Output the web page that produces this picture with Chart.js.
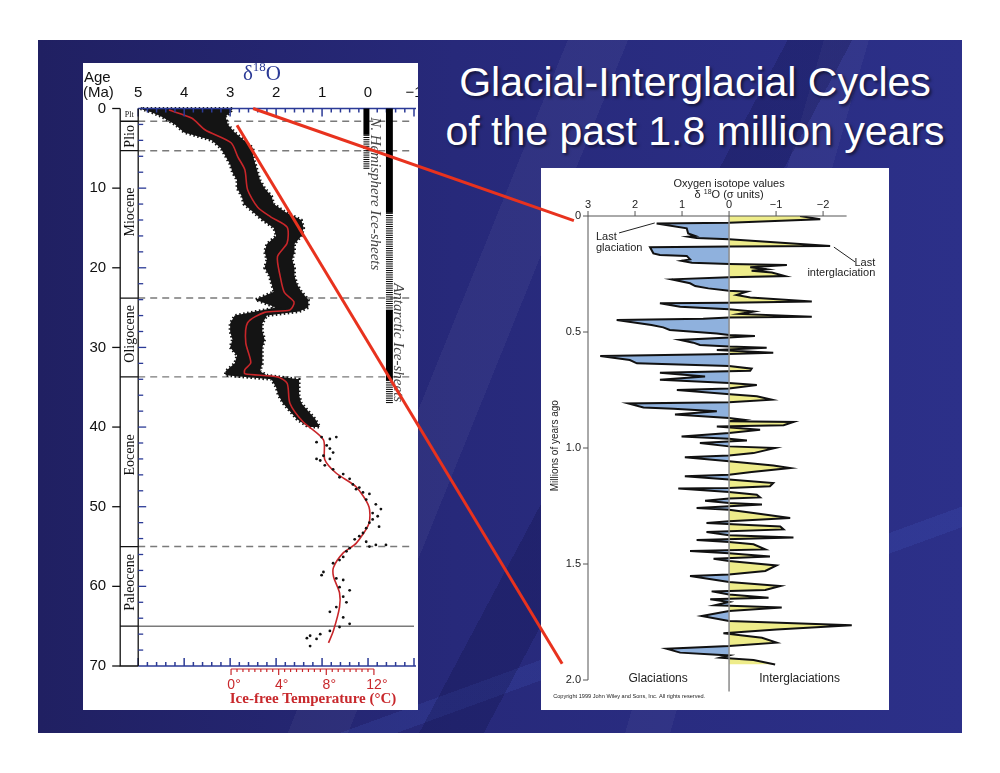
<!DOCTYPE html>
<html>
<head>
<meta charset="utf-8">
<script src="https://cdn.jsdelivr.net/npm/chart.js@4.4.1/dist/chart.umd.min.js"></script>
<style>
html, body { margin: 0; padding: 0; background: #fff; width: 1000px; height: 773px; overflow: hidden; }
#slide {
  position: absolute; left: 38px; top: 40px; width: 924px; height: 693px;
  background:
    linear-gradient(112deg, transparent 44%, rgba(255,255,255,0.045) 44%, rgba(255,255,255,0.045) 49%, transparent 49%),
    linear-gradient(118deg, transparent 58%, rgba(0,0,40,0.18) 58%, rgba(0,0,40,0.18) 63%, transparent 63%),
    linear-gradient(106deg, transparent 70%, rgba(255,255,255,0.04) 70%, rgba(255,255,255,0.04) 74%, transparent 74%),
    linear-gradient(160deg, transparent 78%, rgba(80,110,220,0.14) 78%, rgba(80,110,220,0.14) 80%, transparent 80%),
    linear-gradient(90deg, #202062 0%, #27297a 45%, #2c3089 100%);
}
#title {
  position: absolute; left: 420px; top: 58px; width: 550px; text-align: center;
  color: #fff; font: 41px/49px "Liberation Sans", Arial, sans-serif;
  text-shadow: 2px 2px 3px rgba(0,0,0,0.55);
}
.panel { position: absolute; background: #fff; }
#leftBox { left: 83px; top: 63px; width: 335px; height: 647px; }
#rightBox { left: 541px; top: 168px; width: 348px; height: 542px; }
canvas { position: absolute; left: 0; top: 0; }
#overlay { pointer-events: none; }
</style>
</head>
<body>
<div id="slide"></div>
<div id="title">Glacial-Interglacial Cycles<br>of the past 1.8 million years</div>
<div class="panel" id="leftBox"><canvas id="zachos" width="335" height="647"></canvas></div>
<div class="panel" id="rightBox"><canvas id="cycles" width="348" height="542"></canvas></div>
<canvas id="overlay" width="1000" height="773"></canvas>
<script>
// ---- left panel: deep-sea d18O, 0-70 Ma ----
let smoothAge = [0.2, 1.2, 2.7, 4.3, 6.1, 7.7, 10.2, 12.4, 13.6, 14.9, 16.9, 18.6, 21.1, 23.1, 24.3, 25.3, 25.6, 26.9, 29.4, 31.9,
    32.8, 33.3, 33.7, 34.5, 37.0, 39.3, 41.6, 44.1, 45.8, 47.5, 50.0, 52.1, 54.6, 55.8, 57.6, 58.8, 60.8, 62.6, 65.5, 67.1];
let smoothD18O = [4.33, 3.84, 3.54, 2.98, 2.83, 2.68, 2.62, 2.40, 2.12, 1.76, 1.76, 1.97, 1.91, 1.82, 1.61, 1.70, 2.25, 2.62, 2.66, 2.55,
    2.68, 2.68, 1.97, 1.76, 1.70, 1.42, 0.97, 0.94, 0.69, 0.26, -0.02, -0.02, 0.26, 0.54, 0.75, 0.75, 0.62, 0.62, 0.75, 0.86];

// spread of the dense measurements (left / right edge of the black cloud)
let cloudAge = [0, 0.5, 1, 2, 3, 4, 5, 6, 7, 8, 9, 10, 11, 12, 13, 14, 15, 16, 17, 18, 19, 20, 21, 22, 23, 24, 25, 25.5,
    26, 27, 28, 29, 30, 31, 32, 33, 33.5, 34, 35, 36, 37, 38, 39, 40];
let cloudHigh = [4.95, 4.7, 4.5, 4.2, 4.0, 3.4, 3.2, 3.1, 3.0, 2.95, 2.85, 2.85, 2.75, 2.7, 2.5, 2.3, 2.05, 2.0, 2.2, 2.25, 2.2, 2.25,
    2.15, 2.1, 2.05, 2.45, 2.0, 2.45, 2.9, 3.0, 3.0, 2.95, 3.0, 2.85, 2.9, 3.1, 3.1, 2.1, 2.0, 1.95, 1.85, 1.7, 1.55, 1.3];
let cloudLow = [2.95, 3.0, 3.1, 3.05, 2.9, 2.7, 2.5, 2.5, 2.45, 2.4, 2.35, 2.25, 2.1, 2.05, 1.8, 1.45, 1.4, 1.45, 1.6, 1.6, 1.65, 1.6,
    1.6, 1.55, 1.45, 1.3, 1.3, 1.5, 2.2, 2.3, 2.3, 2.25, 2.3, 2.3, 2.3, 2.35, 2.2, 1.5, 1.5, 1.5, 1.45, 1.3, 1.15, 1.05];

// single measurements in the sparse older part
let dotAge = [41.25, 41.5, 41.25, 41.9, 42.3, 42.7, 43.2, 43.6, 44.0, 44.2, 44.0, 44.8, 45.3, 45.9, 46.3, 46.5, 47.2, 47.6, 47.8, 48.2,
    48.4, 49.1, 49.7, 50.3, 50.8, 51.2, 51.6, 52.0, 52.5, 52.7, 53.3, 53.7, 54.1, 54.4, 54.8, 54.8, 55.0, 55.2, 55.6, 56.3,
    56.7, 57.1, 58.2, 58.6, 59.0, 59.2, 60.1, 60.5, 61.3, 62.0, 62.6, 63.2, 63.9, 64.7, 65.1, 65.6, 66.0, 66.2, 66.5, 66.6, 67.5];
let dotD18O = [1.01, 0.83, 0.69, 1.12, 0.90, 0.83, 0.76, 0.97, 1.12, 1.04, 0.83, 0.94, 0.76, 0.54, 0.62, 0.40, 0.33, 0.19, 0.26, 0.11,
    -0.03, 0.04, -0.17, -0.28, -0.10, -0.21, -0.10, -0.03, -0.24, 0.04, 0.11, 0.19, 0.29, 0.04, -0.17, -0.39, -0.03, 0.40, 0.47, 0.54,
    0.62, 0.76, 0.97, 1.01, 0.69, 0.54, 0.62, 0.40, 0.54, 0.47, 0.69, 0.83, 0.54, 0.40, 0.62, 0.83, 1.04, 1.26, 1.33, 1.12, 1.26];

let epochNames = ['Plt', 'Plio', 'Miocene', 'Oligocene', 'Eocene', 'Paleocene'];
let epochLabelAge = [0.8, 3.5, 13.0, 28.3, 43.5, 59.5];
let epochBounds = [1.6, 5.3, 23.8, 33.7, 55, 65];
let ageTicks = [0, 10, 20, 30, 40, 50, 60, 70];
let d18OTicks = [5, 4, 3, 2, 1, 0, -1];
let tempTicks = [0, 4, 8, 12];
let tempToD18O = { atZero: 2.98, perDegree: -0.259 };

// ice-sheet bars: [from Ma, to Ma]
let nhSolid = [[0, 3.3]];
let nhPartial = [[3.3, 7.7]];
let antSolid = [[0, 13.1], [25.3, 34.1]];
let antPartial = [[13.1, 25.3], [34.1, 37]];

// ---- right panel: normalised d18O, last 2 Myr ----
let cycleAge = [0, 0.014, 0.029, 0.032, 0.053, 0.075, 0.086, 0.089, 0.095, 0.1, 0.129, 0.132, 0.135, 0.161, 0.168, 0.172, 0.187, 0.193,
    0.201, 0.207, 0.211, 0.221, 0.23, 0.236, 0.244, 0.259, 0.264, 0.273, 0.29, 0.302, 0.312, 0.322, 0.326, 0.34, 0.351, 0.369,
    0.374, 0.376, 0.391, 0.402, 0.412, 0.422, 0.434, 0.438, 0.443, 0.448, 0.47, 0.48, 0.491, 0.506, 0.513, 0.517, 0.524, 0.534,
    0.546, 0.556, 0.563, 0.568, 0.578, 0.589, 0.595, 0.603, 0.621, 0.635, 0.647, 0.658, 0.667, 0.676, 0.692, 0.706, 0.72, 0.728,
    0.744, 0.75, 0.767, 0.777, 0.792, 0.803, 0.808, 0.825, 0.831, 0.842, 0.856, 0.871, 0.878, 0.885, 0.888, 0.902, 0.907, 0.921,
    0.935, 0.95, 0.96, 0.968, 0.978, 0.993, 1.0, 1.022, 1.032, 1.04, 1.057, 1.075, 1.086, 1.103, 1.115, 1.122, 1.136, 1.151,
    1.165, 1.172, 1.175, 1.19, 1.201, 1.213, 1.218, 1.227, 1.237, 1.244, 1.259, 1.266, 1.28, 1.302, 1.316, 1.323, 1.338, 1.351,
    1.362, 1.376, 1.386, 1.397, 1.405, 1.415, 1.437, 1.444, 1.454, 1.468, 1.477, 1.487, 1.506, 1.53, 1.545, 1.552, 1.578, 1.595,
    1.612, 1.618, 1.631, 1.645, 1.652, 1.664, 1.678, 1.688, 1.703, 1.724, 1.746, 1.764, 1.782, 1.799, 1.818, 1.839, 1.853, 1.865,
    1.882, 1.894, 1.904, 1.914, 1.933];
let cycleSigma = [-1.51, -1.94, 0, 1.54, 0.90, 0.87, 0.72, 0.87, 0.69, 0, -2.15, 0, 1.68, 1.61, 1.47, 0.90, 0.83, 1.01,
    0.79, 0, -1.23, -0.45, -0.80, -0.48, -0.91, -1.19, 0, 1.22, 0.83, 0.72, 0.44, 0, -0.38, -0.16, -0.45, -1.76,
    0, 1.47, 1.04, 0, -0.52, -0.23, -1.76, 0, 0.55, 2.39, 1.65, 1.40, 1.26, 0.26, 0, -0.55, 0, 1.04,
    0.76, 0.62, 0, -0.80, 0.26, -0.94, 0, 2.74, 2.11, 1.96, 0, -0.48, -0.45, 1.47, 0.51, 1.47, 0, -0.59,
    0, 1.11, 0.05, -0.59, -0.91, 0, 2.14, 1.82, 1.18, 0.26, 1.15, 0, -0.30, 0, -1.37, -1.16, 0.26, -0.66,
    0, 1.01, 0, -0.38, 0.62, 0, -0.98, -0.52, 0, 0.94, 0, -0.94, -1.30, -0.48, 0, 0.94, 0, -0.94,
    -0.87, 0, 1.08, 0, -0.59, -0.66, 0, 0.51, 0, -0.70, 0.69, 0, -0.52, -1.30, 0, 0.48, -1.09, -1.16,
    0.48, 0, -1.37, 0.69, 0, -0.52, -0.77, 0.83, 0, -0.87, 0.33, 0, -1.01, -0.77, 0, 0.83, 0, -1.09,
    -0.77, 0.37, 0, -0.84, 0.40, 0, 0.30, -1.12, 0, 0.58, 0, -2.61, -1.01, 0.12, -0.70, -1.01, 0, 1.33,
    1.04, 0, 0.19, -0.52, -0.98];
let sigmaTicks = [3, 2, 1, 0, -1, -2];
let sigmaTickLabels = ['3', '2', '1', '0', '\u22121', '\u22122'];
let myrTicks = [0, 0.5, 1.0, 1.5, 2.0];
let myrTickLabels = ['0', '0.5', '1.0', '1.5', '2.0'];

// red connectors: left panel [d18O, Ma] -> right panel [sigma, Myr]
let linkFrom = [[2.5, 0], [2.85, 2.1]];
let linkTo = [[3.3, 0.02], [3.55, 1.93]];

const SANS = '"Liberation Sans", Arial, sans-serif';
const SERIF = '"Liberation Serif", "Times New Roman", serif';
const AXIS_BLUE = '#2b3a96';
const TEMP_RED = '#c8282c';

function iceBars(ctx, x, y, ranges, x0, x1, solid) {
    ctx.fillStyle = '#000';
    ranges.forEach(r => {
        const top = y.getPixelForValue(r[0]), bot = y.getPixelForValue(r[1]);
        const l = x.getPixelForValue(x0), rr = x.getPixelForValue(x1);
        if (solid) {
            ctx.fillRect(l, top, rr - l, bot - top);
        } else {
            for (let yy = top; yy < bot; yy += 2.2) ctx.fillRect(l, yy, rr - l, 1);
        }
    });
}

const zachosDecor = {
    id: 'zachosDecor',
    beforeDatasetsDraw(chart) {
        const { ctx, chartArea: a, scales: { x, y } } = chart;
        ctx.save();
        // boundaries across the plot
        ctx.strokeStyle = '#7a7a7a';
        ctx.lineWidth = 1.4;
        epochBounds.forEach((b, i) => {
            const py = y.getPixelForValue(b);
            ctx.setLineDash(i === epochBounds.length - 1 ? [] : [7, 5]);
            ctx.beginPath(); ctx.moveTo(a.left, py); ctx.lineTo(a.right, py); ctx.stroke();
        });
        ctx.setLineDash([]);
        // dense cloud of measurements
        ctx.beginPath();
        cloudAge.forEach((age, i) => {
            const px = x.getPixelForValue(cloudHigh[i]), py = y.getPixelForValue(age);
            if (i) ctx.lineTo(px, py); else ctx.moveTo(px, py);
        });
        for (let i = cloudAge.length - 1; i >= 0; i--) {
            ctx.lineTo(x.getPixelForValue(cloudLow[i]), y.getPixelForValue(cloudAge[i]));
        }
        ctx.closePath();
        ctx.fillStyle = '#141414';
        ctx.fill();
        // ragged edge
        ctx.strokeStyle = '#141414';
        ctx.lineWidth = 3;
        ctx.setLineDash([1.5, 2.5]);
        ctx.stroke();
        ctx.setLineDash([]);
        ctx.restore();
    },
    afterDraw(chart) {
        const { ctx, chartArea: a, scales: { x, y } } = chart;
        ctx.save();
        // top and bottom d18O axes
        ctx.strokeStyle = AXIS_BLUE;
        ctx.lineWidth = 1.5;
        [a.top, a.bottom].forEach((py, k) => {
            ctx.beginPath(); ctx.moveTo(a.left, py); ctx.lineTo(a.right + 2, py); ctx.stroke();
            for (let i = -5; i <= 25; i++) {
                const px = x.getPixelForValue(i / 5);
                const len = i % 5 === 0 ? 8 : 4;
                ctx.beginPath();
                ctx.moveTo(px, py);
                ctx.lineTo(px, k === 0 ? py + len : py - len);
                ctx.stroke();
            }
        });
        ctx.fillStyle = '#111';
        ctx.font = '15px ' + SANS;
        ctx.textAlign = 'center';
        ctx.textBaseline = 'middle';
        d18OTicks.forEach(v => ctx.fillText(String(v).replace('-', '\u2212'), x.getPixelForValue(v), a.top - 16));

        // age column
        const colL = a.left - 18;
        ctx.strokeStyle = '#111';
        ctx.lineWidth = 1.3;
        ctx.beginPath();
        ctx.moveTo(colL, a.top); ctx.lineTo(colL, a.bottom); ctx.lineTo(a.left, a.bottom);
        ctx.moveTo(a.left, a.top); ctx.lineTo(a.left, a.bottom);
        epochBounds.forEach(b => {
            const py = y.getPixelForValue(b);
            ctx.moveTo(colL, py); ctx.lineTo(a.left, py);
        });
        ctx.stroke();
        ctx.textAlign = 'right';
        ageTicks.forEach(v => {
            const py = y.getPixelForValue(v);
            ctx.beginPath(); ctx.moveTo(colL - 8, py); ctx.lineTo(colL, py); ctx.stroke();
            ctx.fillText(String(v), colL - 14, py);
        });
        ctx.strokeStyle = AXIS_BLUE;
        for (let v = 2; v < 70; v += 2) {
            const py = y.getPixelForValue(v);
            ctx.beginPath(); ctx.moveTo(a.left, py); ctx.lineTo(a.left + (v % 10 === 0 ? 8 : 5), py); ctx.stroke();
        }
        // epoch names
        ctx.fillStyle = '#111';
        ctx.textAlign = 'center';
        epochNames.forEach((name, i) => {
            const py = y.getPixelForValue(epochLabelAge[i]);
            if (i === 0) {
                ctx.font = '8px ' + SERIF;
                ctx.fillText(name, colL + 9, py);
                return;
            }
            ctx.font = '14px ' + SERIF;
            ctx.save();
            ctx.translate(colL + 10, py);
            ctx.rotate(-Math.PI / 2);
            ctx.fillText(name, 0, 0);
            ctx.restore();
        });

        // ice sheets
        iceBars(ctx, x, y, nhSolid, 0.1, -0.03, true);
        iceBars(ctx, x, y, nhPartial, 0.1, -0.03, false);
        iceBars(ctx, x, y, antSolid, -0.39, -0.54, true);
        iceBars(ctx, x, y, antPartial, -0.39, -0.54, false);
        ctx.fillStyle = '#444';
        ctx.font = 'italic 15px ' + SERIF;
        [['N. Hemisphere Ice-sheets', -0.15, 10.7], ['Antarctic Ice-sheets', -0.66, 29.4]].forEach(t => {
            ctx.save();
            ctx.translate(x.getPixelForValue(t[1]), y.getPixelForValue(t[2]));
            ctx.rotate(Math.PI / 2);
            ctx.fillText(t[0], 0, 0);
            ctx.restore();
        });

        // temperature axis
        const tx = t => x.getPixelForValue(tempToD18O.atZero + tempToD18O.perDegree * t);
        const ty = a.bottom + 3;
        ctx.strokeStyle = TEMP_RED;
        ctx.lineWidth = 1.2;
        ctx.beginPath(); ctx.moveTo(tx(0), ty); ctx.lineTo(tx(12), ty); ctx.stroke();
        for (let t = 0; t <= 12; t += 0.5) {
            ctx.beginPath(); ctx.moveTo(tx(t), ty); ctx.lineTo(tx(t), ty + (t % 4 === 0 ? 6 : 3)); ctx.stroke();
        }
        ctx.fillStyle = TEMP_RED;
        ctx.font = '14px ' + SANS;
        tempTicks.forEach(t => ctx.fillText(t + '\u00b0', tx(t) + 3, ty + 16));
        ctx.font = 'bold 15px ' + SERIF;
        ctx.fillText('Ice-free Temperature (\u00b0C)', 230, ty + 30);

        // labels at top
        ctx.fillStyle = '#111';
        ctx.font = '15px ' + SANS;
        ctx.textAlign = 'left';
        ctx.fillText('Age', 1, 15);
        ctx.fillText('(Ma)', 0, 30);
        ctx.fillStyle = AXIS_BLUE;
        ctx.font = '21px ' + SERIF;
        const w1 = ctx.measureText('\u03b4').width;
        ctx.font = '13px ' + SERIF;
        const w2 = ctx.measureText('18').width;
        ctx.font = '21px ' + SERIF;
        const w3 = ctx.measureText('O').width;
        let sx = 179 - (w1 + w2 + w3) / 2;
        ctx.fillText('\u03b4', sx, 11);
        ctx.font = '13px ' + SERIF;
        ctx.fillText('18', sx + w1, 5);
        ctx.font = '21px ' + SERIF;
        ctx.fillText('O', sx + w1 + w2, 11);
        ctx.restore();
    }
};

let zachosCtx = document.getElementById('zachos').getContext('2d');
let zachosChart = new Chart(zachosCtx, {
    type: 'scatter',
    data: {
        datasets: [{
            label: 'measurements',
            data: dotAge.map((age, i) => ({ x: dotD18O[i], y: age })),
            pointRadius: 1.4,
            pointBackgroundColor: '#111',
            pointBorderWidth: 0
        }, {
            label: 'smoothed',
            data: smoothAge.map((age, i) => ({ x: smoothD18O[i], y: age })),
            showLine: true,
            borderColor: '#c8262a',
            borderWidth: 1.6,
            tension: 0.25,
            pointRadius: 0
        }]
    },
    options: {
        responsive: false,
        animation: false,
        layout: { padding: { left: 55.2, right: 0, top: 45.5, bottom: 44 } },
        plugins: { legend: { display: false }, tooltip: { enabled: false } },
        scales: {
            x: { type: 'linear', min: -1, max: 5, reverse: true, display: false },
            y: { type: 'linear', min: 0, max: 70, reverse: true, display: false }
        }
    },
    plugins: [zachosDecor]
});

// ---- right chart ----
const cycleDecor = {
    id: 'cycleDecor',
    afterDatasetsDraw(chart) {
        const { ctx, scales: { x, y } } = chart;
        ctx.save();
        ctx.strokeStyle = '#8a8a8a';
        ctx.lineWidth = 1.5;
        const zx = x.getPixelForValue(0);
        ctx.beginPath(); ctx.moveTo(zx, y.getPixelForValue(0)); ctx.lineTo(zx, y.getPixelForValue(2.05)); ctx.stroke();
        ctx.restore();
    },
    afterDraw(chart) {
        const { ctx, scales: { x, y } } = chart;
        ctx.save();
        const top = y.getPixelForValue(0), left = x.getPixelForValue(3);
        ctx.strokeStyle = '#555';
        ctx.lineWidth = 1;
        ctx.beginPath();
        ctx.moveTo(left, top); ctx.lineTo(x.getPixelForValue(-2.5), top);
        ctx.moveTo(left, top); ctx.lineTo(left, y.getPixelForValue(2));
        sigmaTicks.forEach(v => { const px = x.getPixelForValue(v); ctx.moveTo(px, top); ctx.lineTo(px, top - 5); });
        myrTicks.forEach(v => { const py = y.getPixelForValue(v); ctx.moveTo(left, py); ctx.lineTo(left - 5, py); });
        ctx.stroke();
        ctx.fillStyle = '#222';
        ctx.font = '11px ' + SANS;
        ctx.textBaseline = 'middle';
        ctx.textAlign = 'center';
        sigmaTicks.forEach((v, i) => ctx.fillText(sigmaTickLabels[i], x.getPixelForValue(v), top - 11));
        ctx.textAlign = 'right';
        myrTicks.forEach((v, i) => ctx.fillText(myrTickLabels[i], left - 7, y.getPixelForValue(v)));

        // titles
        const cx = x.getPixelForValue(0);
        ctx.textAlign = 'center';
        ctx.fillText('Oxygen isotope values', cx, 16);
        ctx.textAlign = 'left';
        const parts = [['\u03b4 ', '11px', 27], ['18', '7px', 24], ['O (\u03c3 units)', '11px', 27]];
        let tw = 0;
        parts.forEach(p => { ctx.font = p[1] + ' ' + SANS; tw += ctx.measureText(p[0]).width; });
        let sx = cx - tw / 2;
        parts.forEach(p => { ctx.font = p[1] + ' ' + SANS; ctx.fillText(p[0], sx, p[2]); sx += ctx.measureText(p[0]).width; });

        // annotations
        ctx.font = '11px ' + SANS;
        ctx.fillStyle = '#222';
        ctx.fillText('Last', x.getPixelForValue(2.83), y.getPixelForValue(0.089));
        ctx.fillText('glaciation', x.getPixelForValue(2.83), y.getPixelForValue(0.137));
        ctx.textAlign = 'right';
        ctx.fillText('Last', x.getPixelForValue(-3.11), y.getPixelForValue(0.203));
        ctx.fillText('interglaciation', x.getPixelForValue(-3.11), y.getPixelForValue(0.246));
        ctx.strokeStyle = '#222';
        ctx.lineWidth = 1;
        ctx.beginPath();
        ctx.moveTo(x.getPixelForValue(2.34), y.getPixelForValue(0.073));
        ctx.lineTo(x.getPixelForValue(1.58), y.getPixelForValue(0.03));
        ctx.moveTo(x.getPixelForValue(-2.23), y.getPixelForValue(0.134));
        ctx.lineTo(x.getPixelForValue(-2.68), y.getPixelForValue(0.198));
        ctx.stroke();
        ctx.textAlign = 'center';
        ctx.font = '12px ' + SANS;
        ctx.fillText('Glaciations', x.getPixelForValue(1.51), y.getPixelForValue(1.996));
        ctx.fillText('Interglaciations', x.getPixelForValue(-1.5), y.getPixelForValue(1.996));
        ctx.font = '10px ' + SANS;
        ctx.save();
        ctx.translate(x.getPixelForValue(3.7), y.getPixelForValue(0.99));
        ctx.rotate(-Math.PI / 2);
        ctx.fillText('Millions of years ago', 0, 0);
        ctx.restore();
        ctx.textAlign = 'left';
        ctx.font = '5.6px ' + SANS;
        ctx.fillText('Copyright 1999 John Wiley and Sons, Inc. All rights reserved.', x.getPixelForValue(3.74), y.getPixelForValue(2.07));
        ctx.restore();
    }
};

function splitFill(context) {
    const chart = context.chart;
    const a = chart.chartArea;
    if (!a) return '#8fb1dd';
    const zx = chart.scales.x.getPixelForValue(0);
    const t = Math.min(1, Math.max(0, (zx - a.left) / (a.right - a.left)));
    const g = chart.ctx.createLinearGradient(a.left, 0, a.right, 0);
    g.addColorStop(0, '#8fb1dd');
    g.addColorStop(t, '#8fb1dd');
    g.addColorStop(t, '#eeec8a');
    g.addColorStop(1, '#eeec8a');
    return g;
}

let cycleCtx = document.getElementById('cycles').getContext('2d');
let cycleChart = new Chart(cycleCtx, {
    type: 'scatter',
    data: {
        datasets: [{
            label: 'd18O (sigma units)',
            data: cycleAge.map((age, i) => ({ x: cycleSigma[i], y: age })),
            indexAxis: 'y',
            showLine: true,
            fill: 'origin',
            backgroundColor: splitFill,
            borderColor: '#111',
            borderWidth: 2,
            borderJoinStyle: 'miter',
            tension: 0,
            pointRadius: 0
        }]
    },
    options: {
        indexAxis: 'y',
        responsive: false,
        animation: false,
        layout: { padding: { left: 47, right: 33, top: 48, bottom: 30 } },
        plugins: { legend: { display: false }, tooltip: { enabled: false } },
        scales: {
            x: { type: 'linear', min: -2.7, max: 3, reverse: true, display: false },
            y: { type: 'linear', min: 0, max: 2, reverse: true, display: false }
        }
    },
    plugins: [cycleDecor]
});

// connectors between the two figures
function pagePoint(chart, p) {
    const r = chart.canvas.getBoundingClientRect();
    return { x: r.left + chart.scales.x.getPixelForValue(p[0]), y: r.top + chart.scales.y.getPixelForValue(p[1]) };
}
let ov = document.getElementById('overlay').getContext('2d');
ov.strokeStyle = '#e8321e';
ov.lineWidth = 3;
linkFrom.forEach((p, i) => {
    const s = pagePoint(zachosChart, p), e = pagePoint(cycleChart, linkTo[i]);
    ov.beginPath(); ov.moveTo(s.x, s.y); ov.lineTo(e.x, e.y); ov.stroke();
});
</script>
</body>
</html>
